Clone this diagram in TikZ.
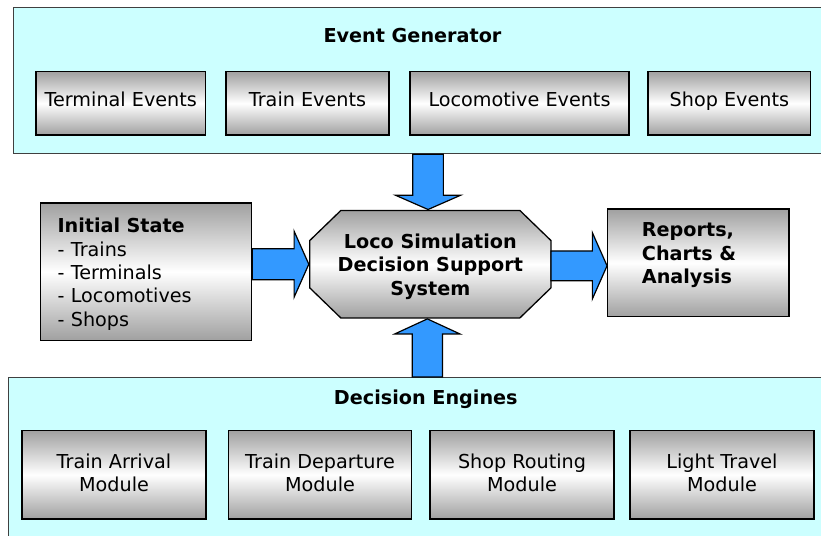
\documentclass[tikz,border=0pt]{standalone}
\usepackage{fontspec}
\setmainfont{DejaVu Sans}
\usetikzlibrary{calc}
\definecolor{panel}{HTML}{CCFFFF}
\definecolor{arrowblue}{HTML}{3399FF}
\definecolor{shadegray}{HTML}{A0A0A0}
\definecolor{panelline}{HTML}{404040}
\newcommand\lowstrut{\rule[-4.8pt]{0pt}{4.8pt}}
\newcommand\highstrut{\rule{0pt}{19.6pt}}
\newcommand\myharrow[5]{% from #1 to tip #2, shaft half #3, head half #4, head length #5
  \draw[blockarrow] ($(#1)+(0,-#3)$) -- ($(#2)+(-#5,-#3)$) -- ($(#2)+(-#5,-#4)$) -- (#2)
    -- ($(#2)+(-#5,#4)$) -- ($(#2)+(-#5,#3)$) -- ($(#1)+(0,#3)$) -- cycle;}
\newcommand\myvarrow[5]{% from #1 to tip #2, head length #5 (positive = downward)
  \draw[blockarrow] ($(#1)+(-#3,0)$) -- ($(#2)+(-#3,-#5)$) -- ($(#2)+(-#4,-#5)$) -- (#2)
    -- ($(#2)+(#4,-#5)$) -- ($(#2)+(#3,-#5)$) -- ($(#1)+(#3,0)$) -- cycle;}
\tikzset{
  panelbox/.style={draw=panelline, line width=1.3pt, fill=panel, inner sep=0pt, anchor=north west},
  module/.style={draw=black, line width=1.3pt, top color=shadegray, bottom color=shadegray,
    middle color=white, align=center, inner sep=0pt, font=\fontsize{19.2}{23.3}\selectfont},
  oneline/.style={text height=14.6pt, text depth=9pt},
  blockarrow/.style={draw=black, line width=1.2pt, fill=arrowblue, line join=miter},
  titletext/.style={font=\fontsize{19.2}{23.3}\selectfont\bfseries, inner sep=0pt},
  boldtext/.style={font=\fontsize{19.2}{23.3}\selectfont\bfseries, align=center, inner sep=0pt},
}
\begin{document}
\begin{tikzpicture}[x=1pt,y=-1pt]
\useasboundingbox (0,0) rectangle (821,535);
\clip (0,0) rectangle (821,535);
\fill[white] (0,0) rectangle (821,535);

% panels
\node[panelbox, minimum width=817pt, minimum height=146pt] (evgen) at (13,7) {};
\node[panelbox, minimum width=827pt, minimum height=168pt] (deceng) at (8,377) {};
\node[titletext] (evgentitle) at (412.5,35.7) {Event Generator};
\node[titletext] (decengtitle) at (425.8,399) {Decision Engines};

% event boxes
\node[module, oneline, minimum width=169.5pt, minimum height=63.5pt] (termev) at (120.75,103.25) {Terminal Events};
\node[module, oneline, minimum width=163pt, minimum height=63.5pt] (trainev) at (307.5,103.25) {Train Events};
\node[module, oneline, minimum width=219pt, minimum height=63.5pt] (locoev) at (519.5,103.25) {Locomotive Events};
\node[module, oneline, minimum width=162.7pt, minimum height=63.5pt] (shopev) at (729.35,103.25) {Shop Events};

% decision modules
\node[module, minimum width=184pt, minimum height=88.5pt] (arrmod) at (114,474.75) {Train Arrival\\Module\lowstrut};
\node[module, minimum width=183.4pt, minimum height=88.5pt] (depmod) at (320,474.75) {Train Departure\\Module\lowstrut};
\node[module, minimum width=184pt, minimum height=88.5pt] (shopmod) at (522,474.75) {Shop Routing\\Module\lowstrut};
\node[module, minimum width=184pt, minimum height=88.5pt] (lightmod) at (722,474.75) {Light Travel\\Module\lowstrut};

% initial state
\node[module, align=left, text width=177.2pt, inner xsep=17pt, minimum height=137.5pt] (init) at (146.1,271.75)
  {\highstrut\textbf{Initial State}\\- Trains\\- Terminals\\- Locomotives\\- Shops};

% reports
\node[module, minimum width=181.3pt, minimum height=107.7pt] (rep) at (698.35,262.85) {};
\node[boldtext, align=left, anchor=north west] (reptext) at (641.7,222.7) {Reports,\\Charts \&\\Analysis};

% core octagon
\node[minimum width=240.7pt, minimum height=107pt, inner sep=0pt] (core) at (430.35,264.2) {};
\path[draw=black, line width=1.3pt, top color=shadegray, bottom color=shadegray, middle color=white]
  ($(core.north west)+(31,0)$) -- ($(core.north east)+(-31,0)$) -- ($(core.north east)+(0,30)$)
  -- ($(core.south east)+(0,-30)$) -- ($(core.south east)+(-31,0)$) -- ($(core.south west)+(31,0)$)
  -- ($(core.south west)+(0,-30)$) -- ($(core.north west)+(0,30)$) -- cycle;
\node[boldtext] (coretext) at ([yshift=-2.5pt]core.center) {Loco Simulation\\Decision Support\\System};

% block arrows
\coordinate (topbase) at ([xshift=-2.3pt]core.north |- evgen.south);
\coordinate (toptip) at ([xshift=-2.3pt,yshift=1pt]core.north);
\myvarrow{topbase}{toptip}{15.3}{32.65}{14.3}
\coordinate (botbase) at ([xshift=-3pt]core.south |- deceng.north);
\coordinate (bottip) at ([xshift=-3pt,yshift=-1pt]core.south);
\myvarrow{botbase}{bottip}{15.2}{32.5}{-15}
\coordinate (leftbase) at (init.east |- core.west);
\coordinate (lefttip) at ([xshift=-1pt]core.west);
\myharrow{leftbase}{lefttip}{15.5}{33}{14.7}
\coordinate (righttip) at ([yshift=-1.6pt]rep.west |- core.east);
\coordinate (rightbase) at ([yshift=-1.6pt]core.east);
\myharrow{rightbase}{righttip}{14.85}{33.15}{14.7}
\end{tikzpicture}
\end{document}
